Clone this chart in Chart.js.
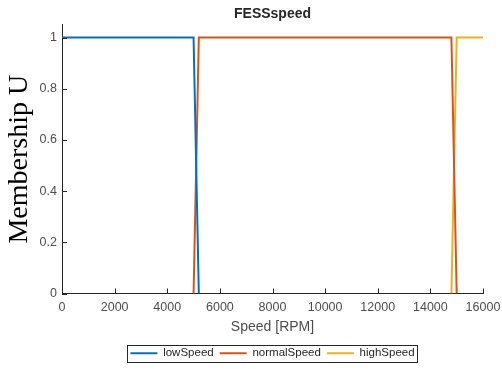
<!DOCTYPE html>
<html lang="en">
<head>
    <meta charset="UTF-8">
    <title>FESSspeed</title>
    <script src="https://cdn.jsdelivr.net/npm/chart.js"></script>
    <style>
        html, body { margin: 0; padding: 0; background: #fff; }
        .chart-box { width: 502px; height: 369px; }
    </style>
</head>
<body>
    <div class="chart-box">
        <canvas id="mfChart"></canvas>
    </div>
    <script>
        // membership functions of the speed input (breakpoints in RPM)
        const lowSpeedX = [0, 5000, 5200];
        const lowSpeedU = [1, 1, 0];
        const normalSpeedX = [5000, 5200, 14800, 15000];
        const normalSpeedU = [0, 1, 1, 0];
        const highSpeedX = [14800, 15000, 16000];
        const highSpeedU = [0, 1, 1];

        const xTicks = [0, 2000, 4000, 6000, 8000, 10000, 12000, 14000, 16000];
        const yTicks = [0, 0.2, 0.4, 0.6, 0.8, 1];

        const pts = (xs, ys) => xs.map((x, i) => ({ x: x, y: ys[i] }));

        const axisColor = '#262626';
        const labelColor = '#4d4d4d';
        const sans = "'Liberation Sans', Arial, Helvetica, sans-serif";

        // MATLAB style inward tick marks + boxed legend
        const matlabAxes = {
            id: 'matlabAxes',
            afterDraw(chart) {
                const ctx = chart.ctx;
                const xs = chart.scales.x, ys = chart.scales.y;
                const area = chart.chartArea;
                ctx.save();
                ctx.strokeStyle = axisColor;
                ctx.lineWidth = 1;
                ctx.beginPath();
                xTicks.forEach(v => {
                    const px = Math.round(xs.getPixelForValue(v)) + 0.5;
                    ctx.moveTo(px, area.bottom);
                    ctx.lineTo(px, area.bottom - 5);
                });
                yTicks.forEach(v => {
                    const py = Math.round(ys.getPixelForValue(v)) + 0.5;
                    ctx.moveTo(area.left, py);
                    ctx.lineTo(area.left + 5, py);
                });
                ctx.stroke();

                const boxes = chart.legend.legendHitBoxes;
                if (boxes && boxes.length) {
                    const left = Math.min(...boxes.map(b => b.left)) - 3;
                    const right = Math.max(...boxes.map(b => b.left + b.width)) + 3;
                    const top = Math.min(...boxes.map(b => b.top));
                    const bottom = Math.max(...boxes.map(b => b.top + b.height));
                    const midY = (top + bottom) / 2;
                    ctx.strokeStyle = axisColor;
                    ctx.strokeRect(Math.round(left) + 0.5, Math.round(midY - 8.5) + 0.5, Math.round(right - left), 17);
                }
                ctx.restore();
            }
        };

        new Chart(document.getElementById('mfChart'), {
            type: 'line',
            data: {
                datasets: [
                    { label: 'lowSpeed', data: pts(lowSpeedX, lowSpeedU), borderColor: '#0072BD', backgroundColor: '#0072BD', borderWidth: 2 },
                    { label: 'normalSpeed', data: pts(normalSpeedX, normalSpeedU), borderColor: '#D95319', backgroundColor: '#D95319', borderWidth: 2 },
                    { label: 'highSpeed', data: pts(highSpeedX, highSpeedU), borderColor: '#EDB120', backgroundColor: '#EDB120', borderWidth: 2 }
                ]
            },
            options: {
                responsive: true,
                maintainAspectRatio: false,
                animation: false,
                layout: { padding: { left: 0, right: 19, top: 0, bottom: 0 } },
                elements: {
                    line: { tension: 0 },
                    point: { radius: 0, hoverRadius: 0 }
                },
                plugins: {
                    title: {
                        display: true,
                        fullSize: false,
                        text: 'FESSspeed',
                        color: axisColor,
                        font: { family: sans, size: 14, weight: 'bold', lineHeight: 1.2 },
                        padding: { top: 6, bottom: 2 }
                    },
                    legend: {
                        position: 'bottom',
                        fullSize: false,
                        labels: {
                            usePointStyle: true,
                            pointStyle: 'line',
                            pointStyleWidth: 27,
                            color: axisColor,
                            padding: 6,
                            font: { family: sans, size: 11.5 }
                        }
                    },
                    tooltip: { enabled: false }
                },
                scales: {
                    x: {
                        type: 'linear',
                        min: 0,
                        max: 16000,
                        afterBuildTicks: s => { s.ticks = xTicks.map(v => ({ value: v })); },
                        afterFit: s => { s.height = 48; s.paddingLeft = 0; s.paddingRight = 0; },
                        grid: { display: false, drawTicks: false },
                        border: { display: true, color: axisColor, width: 1 },
                        ticks: {
                            color: labelColor,
                            padding: 7,
                            maxRotation: 0,
                            autoSkip: false,
                            font: { family: sans, size: 12.5 },
                            callback: v => String(v)
                        },
                        title: {
                            display: true,
                            text: 'Speed [RPM]',
                            color: labelColor,
                            font: { family: sans, size: 14, lineHeight: 1.2 },
                            padding: { top: 0, bottom: 6 }
                        }
                    },
                    y: {
                        type: 'linear',
                        min: 0,
                        max: 1.05,
                        afterBuildTicks: s => { s.ticks = yTicks.map(v => ({ value: v })); },
                        afterFit: s => { s.width = 62; s.paddingTop = 0; s.paddingBottom = 0; },
                        grid: { display: false, drawTicks: false },
                        border: { display: true, color: axisColor, width: 1 },
                        ticks: {
                            color: labelColor,
                            padding: 5,
                            font: { family: sans, size: 12.5 },
                            callback: v => String(v)
                        },
                        title: {
                            display: true,
                            text: 'Membership U',
                            color: '#000',
                            font: { family: "'Liberation Serif', 'Times New Roman', serif", size: 28, lineHeight: 1 },
                            padding: { top: 6, bottom: 0 }
                        }
                    }
                }
            },
            plugins: [matlabAxes]
        });
    </script>
</body>
</html>
